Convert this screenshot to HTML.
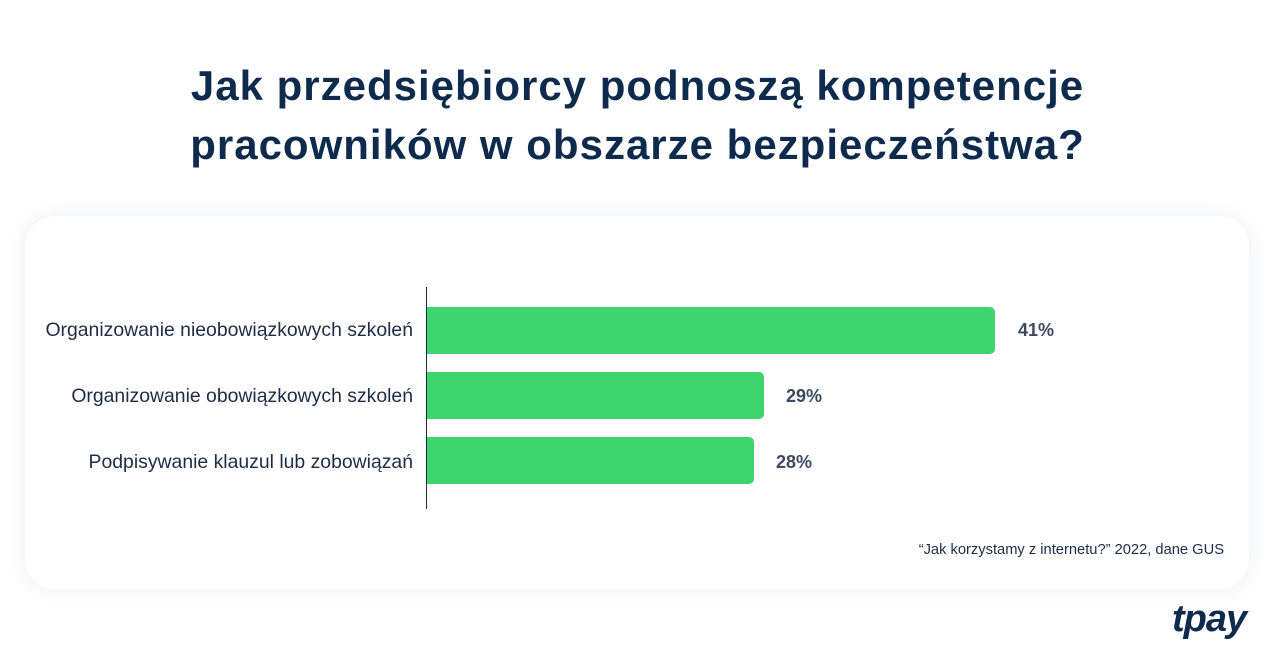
<!DOCTYPE html>
<html><head><meta charset="utf-8"><style>
body{margin:0;width:1275px;height:660px;background:#fff;font-family:"Liberation Sans",sans-serif;position:relative;overflow:hidden;color:#0e2a4d}
.t{position:absolute;left:0;width:1275px;text-align:center;font-size:42px;font-weight:bold;color:#0e2a4d;line-height:59px;top:56px;letter-spacing:1px}
.card{position:absolute;left:25px;top:216px;width:1224px;height:373px;border-radius:30px;background:#fff;box-shadow:0 0 18px rgba(20,40,80,0.08)}
.ax{position:absolute;left:426px;top:287px;width:1px;height:222px;background:#1b2a40}
.bar{position:absolute;left:427px;height:47px;background:#3fd46d;border-radius:0 5px 5px 0}
.lab{position:absolute;right:862px;font-size:19.4px;color:#1e2d45;white-space:nowrap}
.v{position:absolute;font-size:18px;font-weight:bold;color:#3b4a5e}
.src{position:absolute;right:51px;top:542px;font-size:14.7px;color:#1e2d45}
.logo{position:absolute;left:1172px;top:598px;font-size:38px;font-weight:bold;font-style:italic;color:#0e2a4d;letter-spacing:-1px}
</style></head><body>
<div class="t">Jak przedsiębiorcy podnoszą kompetencje<br>pracowników w obszarze bezpieczeństwa?</div>
<div class="card"></div>
<div class="ax"></div>
<div class="bar" style="top:307px;width:568px"></div>
<div class="bar" style="top:372px;width:337px"></div>
<div class="bar" style="top:437px;width:327px"></div>
<div class="lab" style="top:319px">Organizowanie nieobowiązkowych szkoleń</div>
<div class="lab" style="top:385px">Organizowanie obowiązkowych szkoleń</div>
<div class="lab" style="top:451px">Podpisywanie klauzul lub zobowiązań</div>
<div class="v" style="left:1018px;top:320px">41%</div>
<div class="v" style="left:786px;top:386px">29%</div>
<div class="v" style="left:776px;top:452px">28%</div>
<div class="src">“Jak korzystamy z internetu?” 2022, dane GUS</div>
<div class="logo">tpay</div>
</body></html>
